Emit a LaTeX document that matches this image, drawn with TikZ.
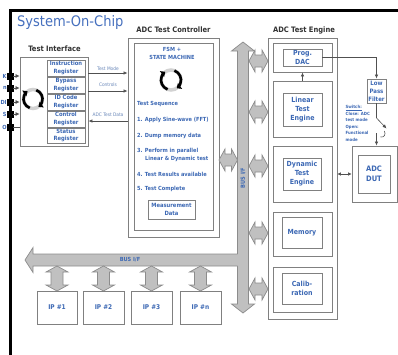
\documentclass[tikz,border=0pt]{standalone}
\usepackage{fontspec}
\setmainfont{DejaVu Sans}
\newfontfamily\condf{DejaVu Sans Condensed}
\usetikzlibrary{arrows.meta}
\definecolor{tblue}{RGB}{60,104,180}
\definecolor{ttlblue}{RGB}{70,112,190}
\definecolor{lblc}{RGB}{50,50,50}
\definecolor{bgray}{RGB}{128,128,128}
\definecolor{busfill}{RGB}{192,192,192}
\definecolor{busline}{RGB}{140,140,140}
\definecolor{wirec}{RGB}{80,80,80}
\definecolor{faint}{RGB}{105,135,185}
\tikzset{
  boxst/.style={draw=bgray, line width=0.9pt, inner sep=0pt, align=center},
  lbl/.style={text=lblc, font=\condf\bfseries\fontsize{7.5}{9}\selectfont},
  bt/.style={text=tblue, font=\condf\bfseries\fontsize{5.8}{7.6}\selectfont, align=center},
  bigt/.style={text=tblue, font=\condf\bfseries\fontsize{7}{9}\selectfont, align=center},
  seqt/.style={text=tblue, font=\condf\bfseries\fontsize{5.6}{7.6}\selectfont, anchor=west, inner sep=0pt},
  smallt/.style={text=faint, font=\condf\fontsize{4.8}{6}\selectfont, inner sep=0.5pt},
  swt/.style={text=tblue, font=\condf\bfseries\fontsize{4.3}{6.6}\selectfont, align=left, inner sep=0pt},
  pinst/.style={fill=black, draw=black, minimum size=6pt, inner sep=0pt},
  pinlbl/.style={text=tblue, font=\condf\bfseries\fontsize{5.6}{7}\selectfont, anchor=east, inner sep=0pt},
  cnn/.style={draw=wirec, line width=0.6pt, -{Latex[length=4pt,width=3.5pt]}},
  wire/.style={draw=wirec, line width=0.6pt},
  busst/.style={fill=busfill, draw=busline, line width=0.7pt, line join=miter},
  bustxt/.style={text=tblue, font=\condf\bfseries\fontsize{5.6}{7}\selectfont},
}
\newcommand\hdblarrow[3]{% xleft xright ycenter
  \draw[busst] (#1,#3) -- (#1+6,#3-11) -- (#1+6,#3-6) -- (#2-6,#3-6) -- (#2-6,#3-11) -- (#2,#3)
     -- (#2-6,#3+11) -- (#2-6,#3+6) -- (#1+6,#3+6) -- (#1+6,#3+11) -- cycle;}
\newcommand\vdblarrow[3]{% xcenter ytop ybottom
  \draw[busst] (#1,#2) -- (#1-11,#2+6) -- (#1-6,#2+6) -- (#1-6,#3-6) -- (#1-11,#3-6) -- (#1,#3)
     -- (#1+11,#3-6) -- (#1+6,#3-6) -- (#1+6,#2+6) -- (#1+11,#2+6) -- cycle;}
\newcommand\cycicon[3]{% x y r
  \draw[line width=3.5pt, gray!35] (#1,#2) circle (#3);
  \draw[line width=2.6pt, black, -{Triangle[length=4pt,width=7pt]}] ([shift={(110:#3)}]#1,#2) arc (110:235:#3);
  \draw[line width=2.6pt, black, -{Triangle[length=4pt,width=7pt]}] ([shift={(290:#3)}]#1,#2) arc (290:415:#3);}
\begin{document}
\begin{tikzpicture}[x=1pt,y=-1pt]
\useasboundingbox (0,0) rectangle (398,354);
\fill[white] (0,0) rectangle (398,354);
\clip (0,0) rectangle (398,354);

% SoC frame and title
\draw[line width=3pt, black] (10,420) -- (10,10.5) -- (420,10.5);
\node[anchor=base west, text=ttlblue, inner sep=0pt, font=\condf\fontsize{14.5}{16}\selectfont] (title) at (17,26) {System-On-Chip};

% ---------- Test Interface ----------
\node[lbl] (tilbl) at (54.5,49) {Test Interface};
\node[boxst, minimum width=68, minimum height=89] (ti) at (54,101.5) {};
\node[boxst, bt, minimum width=38, minimum height=16] (ir)  at (66,68)  {Instruction\\Register};
\node[boxst, bt, minimum width=38, minimum height=16] (byp) at (66,85)  {Bypass\\Register};
\node[boxst, bt, minimum width=38, minimum height=16] (idc) at (66,102) {ID Code\\Register};
\node[boxst, bt, minimum width=38, minimum height=16] (ctl) at (66,119) {Control\\Register};
\node[boxst, bt, minimum width=38, minimum height=15] (sts) at (66,135.5) {Status\\Register};
\cycicon{33}{99}{9.5}

% pins
\foreach \n/\y/\t in {1/76/K,2/88/n,3/102/DI,4/114/S,5/127/O}{
  \node[pinst] (p\n) at (10,\y) {};
  \node[pinlbl] (pl\n) at (6.8,\y) {\t};
}
\foreach \n in {1,2,3,4}{ \draw[cnn, -{Latex[length=4pt,width=4pt]}] (p\n.east) -- (p\n.east -| ti.west); }
\draw[wire] (p5.east) -- (p5.east -| ti.west);

% ---------- ADC Test Controller ----------
\node[lbl] (ctrllbl) at (173.5,30) {ADC Test Controller};
\node[boxst, minimum width=91, minimum height=199] (ctrlo) at (173.5,137.5) {};
\node[boxst, minimum width=79, minimum height=187] (ctrl) at (173.5,136.5) {};
\node[bt, font=\condf\bfseries\fontsize{5.6}{8}\selectfont] (fsm) at (172,53) {FSM +\\STATE MACHINE};
\cycicon{171}{80}{10}
\node[seqt] (s0) at (137,104) {Test Sequence};
\node[seqt] (s1) at (137,120) {1. Apply Sine-wave (FFT)};
\node[seqt] (s2) at (137,136) {2. Dump memory data};
\node[seqt] (s3) at (137,151) {3. Perform in parallel};
\node[seqt] (s3b) at (145,159) {Linear \& Dynamic test};
\node[seqt] (s4) at (137,174) {4. Test Results available};
\node[seqt] (s5) at (137,189) {5. Test Complete};
\node[boxst, bt, minimum width=47, minimum height=19] (meas) at (171.5,209.5) {Measurement\\Data};

% TI <-> controller
\coordinate (yTM) at (0,73);
\coordinate (yCT) at (0,91);
\coordinate (yAD) at (0,121);
\draw[cnn] (ti.east |- yTM) -- (ctrlo.west |- yTM) node[midway, above=1.5pt, smallt] {Test Mode};
\draw[cnn] (ti.east |- yCT) -- (ctrlo.west |- yCT) node[midway, above=3.5pt, smallt] {Controls};
\draw[cnn] (ctrlo.west |- yAD) -- (ti.east |- yAD) node[midway, above=4pt, smallt] {ADC Test Data};

% ---------- Buses ----------
% vertical bus
\draw[busst] (243,42) -- (231.5,51) -- (237.5,51) -- (237.5,304) -- (231.5,304) -- (243,313)
  -- (254.5,304) -- (248.5,304) -- (248.5,51) -- (254.5,51) -- cycle;
\node[bustxt, rotate=90] (vbus) at (243,178) {BUS I/F};
% horizontal bus
\fill[busfill] (25,260) -- (33,247.5) -- (33,254) -- (238.2,254) -- (238.2,266) -- (33,266) -- (33,272.5) -- cycle;
\draw[busline, line width=0.7pt, line join=miter] (237.5,254) -- (33,254) -- (33,247.5) -- (25,260) -- (33,272.5) -- (33,266) -- (237.5,266);
\node[bustxt] (hbus) at (130,260) {BUS I/F};

% controller <-> bus
\hdblarrow{219}{237.5}{160}
% bus <-> engine
\hdblarrow{249}{268}{61}
\hdblarrow{249}{268}{112}
\hdblarrow{249}{268}{166}
\hdblarrow{249}{268}{233}
\hdblarrow{249}{268}{289}

% bus <-> IPs
\vdblarrow{57}{266}{291}
\vdblarrow{103.5}{266}{291}
\vdblarrow{151.5}{266}{291}
\vdblarrow{200.5}{266}{291}

\node[boxst, bigt, font=\condf\bfseries\fontsize{6.5}{8}\selectfont, minimum width=40, minimum height=33] (ip1) at (57,307.5) {IP \#1};
\node[boxst, bigt, font=\condf\bfseries\fontsize{6.5}{8}\selectfont, minimum width=41, minimum height=33] (ip2) at (103.5,307.5) {IP \#2};
\node[boxst, bigt, font=\condf\bfseries\fontsize{6.5}{8}\selectfont, minimum width=41, minimum height=33] (ip3) at (151.5,307.5) {IP \#3};
\node[boxst, bigt, font=\condf\bfseries\fontsize{6.5}{8}\selectfont, minimum width=41, minimum height=33] (ipn) at (200.5,307.5) {IP \#n};

% ---------- ADC Test Engine ----------
\node[lbl] (englbl) at (304,30) {ADC Test Engine};
\node[boxst, minimum width=69, minimum height=281] (eng) at (302.5,178.5) {};
\node[boxst, minimum width=59, minimum height=29] (g1) at (302.5,57.5) {};
\node[boxst, bigt, minimum width=39, minimum height=17] (dac) at (302.5,57.5) {Prog.\\DAC};
\node[boxst, minimum width=59, minimum height=56] (g2) at (302.5,109) {};
\node[boxst, bigt, minimum width=39, minimum height=33] (lin) at (302.5,109.5) {Linear\\Test\\Engine};
\node[boxst, minimum width=59, minimum height=56] (g3) at (302.5,174) {};
\node[boxst, bigt, minimum width=38, minimum height=32] (dyn) at (302,174) {Dynamic\\Test\\Engine};
\node[boxst, minimum width=59, minimum height=44] (g4) at (302.5,234) {};
\node[boxst, bigt, minimum width=40, minimum height=31] (mem) at (302,232.5) {Memory};
\node[boxst, minimum width=59, minimum height=45] (g5) at (302.5,289.5) {};
\node[boxst, bigt, minimum width=40, minimum height=31] (cal) at (302,288.5) {Calib-\\ration};
\draw[cnn] (g2.north) -- (g1.south);

% ---------- LPF, switch, DUT ----------
\node[boxst, bt, font=\condf\bfseries\fontsize{6}{8}\selectfont, minimum width=19, minimum height=24] (lpf) at (376.5,91) {Low\\Pass\\Filter};
\draw[cnn] (dac.east) -| (lpf.north);
\coordinate (sw1) at (376.5,118);
\coordinate (sw2) at (386.5,128.5);
\coordinate (sw3) at (376.5,133);
\draw[wire] (lpf.south) -- (sw1);
\draw[cnn] (sw1) -- (sw2);
\draw[wire] (384.5,131) .. controls (386,135) and (384,137.5) .. (380.5,137);
\node[swt, anchor=north west] (swlbl) at (345.5,105) {\underline{Switch:}\\Close: ADC\\test mode\\Open:\\Functional\\mode};
\node[boxst, minimum width=45, minimum height=56] (duto) at (374.5,174) {};
\node[boxst, bigt, font=\condf\bfseries\fontsize{7.5}{9.5}\selectfont, minimum width=32, minimum height=38] (dut) at (374,174) {ADC\\DUT};
\draw[cnn] (sw3) -- (sw3 |- duto.north);
\draw[wire, {Latex[length=3.5pt,width=3.5pt]}-{Latex[length=3.5pt,width=3.5pt]}] (eng.east |- duto.west) -- (duto.west);
\end{tikzpicture}
\end{document}
